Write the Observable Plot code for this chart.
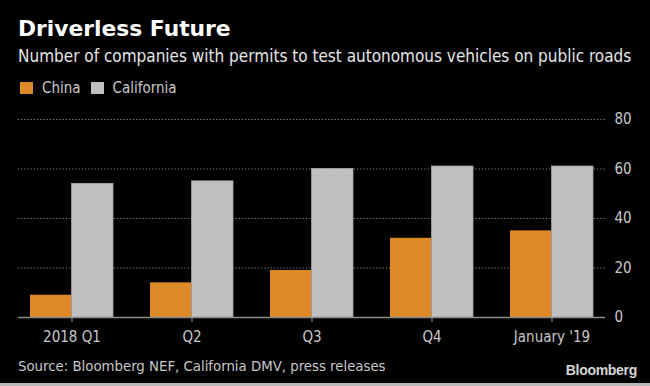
<!DOCTYPE html>
<html>
<head>
<meta charset="utf-8">
<script src="https://cdn.jsdelivr.net/npm/d3@7"></script>
<script src="https://cdn.jsdelivr.net/npm/@observablehq/plot@0.6"></script>
<style>
  html, body { margin: 0; padding: 0; background: #000; }
  #wrap { position: relative; width: 650px; height: 386px; background: #000; overflow: hidden;
          font-family: "Liberation Sans Narrow", "DejaVu Sans Condensed", "Roboto Condensed", "Liberation Sans", sans-serif; color: #fff; }
  #title { position: absolute; left: 18px; top: 16px; font-family: "DejaVu Sans", sans-serif; font-weight: bold; font-size: 21.8px; line-height: 26px; color: #fff; white-space: nowrap; }
  #subtitle { position: absolute; left: 18px; top: 46px; font-size: 17px; line-height: 20px; color: #e6e6e6; white-space: nowrap; }
  #legend { position: absolute; left: 20px; top: 80px; font-size: 15px; line-height: 16px; color: #c8c8c8; white-space: nowrap; display: flex; align-items: center; }
  #legend .sw { display: inline-block; width: 13px; height: 12px; margin-right: 9px; }
  #legend .item { display: inline-flex; align-items: center; margin-right: 10px; }
  #chart { position: absolute; left: 0; top: 100px; }
  #source { position: absolute; left: 18px; top: 357px; font-size: 14.8px; line-height: 18px; color: #c8c8c8; white-space: nowrap; }
  #brand { position: absolute; right: 13px; top: 362px; font-family: "Liberation Sans", Arial, sans-serif; font-weight: bold; font-size: 14px; line-height: 16px; color: #d6d6d6; letter-spacing: -0.3px; }
  #bottomline { position: absolute; left: 0; right: 0; bottom: 0; height: 3px; background: #b8b8b8; }
</style>
</head>
<body>
<div id="wrap">
  <div id="title">Driverless Future</div>
  <div id="subtitle">Number of companies with permits to test autonomous vehicles on public roads</div>
  <div id="legend"></div>
  <div id="chart"></div>
  <div id="source">Source: Bloomberg NEF, California DMV, press releases</div>
  <div id="brand">Bloomberg</div>
  <div id="bottomline"></div>
</div>
<script>
const periods = ["2018 Q1", "Q2", "Q3", "Q4", "January '19"];
const seriesNames = ["China", "California"];
const chinaValues = [9, 14, 19, 32, 35];
const californiaValues = [54, 55, 60, 61, 61];
const seriesColors = ["#dd8a26", "#c0c0c0"];
const yTicks = [0, 20, 40, 60, 80];

const chinaData = periods.map((p, i) => ({period: p, series: "China", value: chinaValues[i]}));
const californiaData = periods.map((p, i) => ({period: p, series: "California", value: californiaValues[i]}));

// legend
const legend = document.getElementById("legend");
seriesNames.forEach((s, i) => {
  const item = document.createElement("span");
  item.className = "item";
  const sw = document.createElement("span");
  sw.className = "sw";
  sw.style.background = seriesColors[i];
  item.appendChild(sw);
  item.appendChild(document.createTextNode(s));
  legend.appendChild(item);
});

const W = 650, H = 250, mL = 18, mR = 45, mT = 19, mB = 33;
const padIn = 0.31, padOut = 0.09;
const bw = d3.scaleBand().domain(periods).range([mL, W - mR]).paddingInner(padIn).paddingOuter(padOut).bandwidth();

const chart = Plot.plot({
  width: W,
  height: H,
  marginTop: mT,
  marginBottom: mB,
  marginLeft: mL,
  marginRight: mR,
  style: {background: "transparent", color: "#c8c8c8", fontFamily: "'Liberation Sans Narrow', 'DejaVu Sans Condensed', 'Liberation Sans', sans-serif", fontSize: "15px"},
  x: {domain: periods, paddingInner: padIn, paddingOuter: padOut, axis: null},
  y: {domain: [0, 80], axis: null},
  color: {domain: seriesNames, range: seriesColors},
  marks: [
    Plot.ruleY(yTicks.slice(1), {stroke: "#8a8a8a", strokeDasharray: "1.2,2", strokeWidth: 1}),
    Plot.barY(chinaData, {x: "period", y: "value", fill: "series", insetRight: bw / 2}),
    Plot.barY(californiaData, {x: "period", y: "value", fill: "series", insetLeft: bw / 2, stroke: "#a8a8a8", strokeWidth: 0.8}),
    Plot.ruleY([0], {stroke: "#8c8c8c", strokeWidth: 1.5}),
    Plot.axisX({anchor: "bottom", tickSize: 5, tickPadding: 9, stroke: "#9a9a9a", fontSize: 15, label: null}),
    Plot.axisY({anchor: "right", ticks: yTicks, tickSize: 0, tickPadding: 9, label: null, fontSize: 15})
  ]
});
document.getElementById("chart").appendChild(chart);
</script>
</body>
</html>
